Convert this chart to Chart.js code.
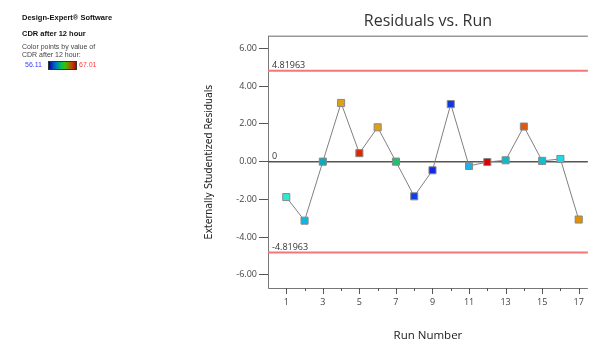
<!DOCTYPE html>
<html>
<head>
<meta charset="utf-8">
<script src="https://cdn.jsdelivr.net/npm/chart.js@4.4.1/dist/chart.umd.min.js"></script>
<style>
  html, body { margin: 0; padding: 0; background: #fff; }
  #wrap { position: relative; width: 593px; height: 341px; overflow: hidden; }
  #chartResiduos { position: absolute; left: 0; top: 0; }
  .info { position: absolute; font-family: "Liberation Sans", Arial, sans-serif; font-size: 7.5px; color: #111; white-space: nowrap; }
  .info b { font-weight: bold; }
  .legenda { position: absolute; left: 22px; top: 43px; font-family: "Liberation Sans", Arial, sans-serif; font-size: 7px; color: #444; line-height: 8px; }
  .escala { position: absolute; left: 25px; top: 61px; font-family: "Liberation Sans", Arial, sans-serif; font-size: 7px; line-height: 8px; }
  .escala .min { position: absolute; left: 0; top: 0; color: #3b3bff; }
  .escala .barra { position: absolute; left: 23px; top: 0; width: 27px; height: 7px; border: 1px solid #333;
    background: linear-gradient(to right, #0000b0, #0060c0 20%, #00c060 45%, #40c000 60%, #c04000 85%, #c00000); }
  .escala .max { position: absolute; left: 54px; top: 0; color: #ff3b3b; }
</style>
</head>
<body>
<div id="wrap">
  <canvas id="chartResiduos" width="593" height="341"></canvas>
  <div class="info" style="left:22px; top:13px;"><b>Design-Expert® Software</b></div>
  <div class="info" style="left:22px; top:29px;"><b>CDR after 12 hour</b></div>
  <div class="legenda">Color points by value of<br>CDR after 12 hour:</div>
  <div class="escala"><span class="min">56.11</span><span class="barra"></span><span class="max">67.01</span></div>
</div>
<script>
// dados
const runs = [1, 2, 3, 4, 5, 6, 7, 8, 9, 10, 11, 12, 13, 14, 15, 16, 17];
const residuos = [-1.88, -3.13, 0.00, 3.11, 0.45, 1.82, 0.00, -1.84, -0.46, 3.05, -0.23, -0.02, 0.07, 1.86, 0.04, 0.14, -3.07];
const coresPontos = ['#30e8d0', '#10b8e0', '#10a8c0', '#e0a010', '#e02800', '#e0a010', '#20c070', '#1040e0', '#1028e0',
  '#1038e0', '#20b0e8', '#e00000', '#10b8c8', '#e05810', '#10c0d0', '#20d8e8', '#e09000'];
const yTicks = [-6, -4, -2, 0, 2, 4, 6];
const xTicks = [1, 2, 3, 4, 5, 6, 7, 8, 9, 10, 11, 12, 13, 14, 15, 16, 17];
const limite = 4.81963;

const fonteTick = { family: '"Open Sans", sans-serif', size: 9 };

const linhasRef = {
    id: 'linhasRef',
    beforeDatasetsDraw(chart) {
        const { ctx, chartArea: a, scales: { x, y } } = chart;
        ctx.save();
        // bordas
        ctx.strokeStyle = '#999';
        ctx.lineWidth = 1.5;
        ctx.beginPath();
        ctx.moveTo(a.left, a.top);
        ctx.lineTo(a.right, a.top);
        ctx.stroke();
        ctx.strokeStyle = '#777';
        ctx.lineWidth = 1;
        ctx.beginPath();
        ctx.moveTo(a.left + 0.5, a.top);
        ctx.lineTo(a.left + 0.5, a.bottom + 0.5);
        ctx.lineTo(a.right, a.bottom + 0.5);
        ctx.stroke();
        // linhas de referencia
        const desenha = (v, cor, lw, txt) => {
            const py = y.getPixelForValue(v);
            ctx.strokeStyle = cor;
            ctx.lineWidth = lw;
            ctx.beginPath();
            ctx.moveTo(a.left, py);
            ctx.lineTo(a.right, py);
            ctx.stroke();
            ctx.fillStyle = '#333';
            ctx.font = '9px "Open Sans", sans-serif';
            ctx.textBaseline = 'bottom';
            ctx.fillText(txt, a.left + 4, py - 1);
        };
        desenha(limite, '#f07878', 2, String(limite));
        desenha(-limite, '#f07878', 2, '-' + limite);
        desenha(0, '#555', 1.5, '0');
        // ticks do eixo x
        ctx.strokeStyle = '#555';
        ctx.lineWidth = 1;
        xTicks.forEach(v => {
            const px = Math.round(x.getPixelForValue(v)) + 0.5;
            ctx.beginPath();
            ctx.moveTo(px, a.bottom);
            ctx.lineTo(px, a.bottom + (v % 2 ? 6 : 3));
            ctx.stroke();
        });
        ctx.restore();
    }
};

const initChartResiduos = () => {
    const ctx = document.getElementById('chartResiduos').getContext('2d');
    return new Chart(ctx, {
        type: 'line',
        data: {
            datasets: [{
                data: runs.map((r, i) => ({ x: r, y: residuos[i] })),
                borderColor: '#808080',
                borderWidth: 1,
                pointStyle: 'rect',
                pointRadius: 5,
                pointBackgroundColor: coresPontos,
                pointBorderColor: '#888',
                pointBorderWidth: 1,
                tension: 0
            }]
        },
        options: {
            responsive: false,
            animation: false,
            devicePixelRatio: 1,
            layout: { autoPadding: false, padding: { left: 195, top: 0, right: -5, bottom: 0 } },
            plugins: {
                legend: { display: false },
                tooltip: { enabled: false },
                title: {
                    display: true,
                    text: 'Residuals vs. Run',
                    fullSize: false,
                    color: '#333',
                    font: { family: '"Open Sans", sans-serif', size: 16, weight: 'normal', lineHeight: 1.2 },
                    padding: { top: 12, bottom: 5 }
                }
            },
            scales: {
                x: {
                    type: 'linear',
                    min: 0,
                    max: 17.5,
                    afterBuildTicks: s => { s.ticks = xTicks.map(v => ({ value: v })); },
                    afterFit: s => { s.height = 53; },
                    grid: { display: false, drawTicks: false },
                    border: { display: false },
                    ticks: {
                        autoSkip: false,
                        maxRotation: 0,
                        padding: 9,
                        color: '#444',
                        font: fonteTick,
                        callback: v => (v % 2 ? String(v) : '')
                    },
                    title: {
                        display: true,
                        text: 'Run Number',
                        color: '#222',
                        font: { family: '"Open Sans", sans-serif', size: 11.5, lineHeight: 1.0 },
                        padding: 0
                    }
                },
                y: {
                    min: -6.7,
                    max: 6.65,
                    afterBuildTicks: s => { s.ticks = yTicks.map(v => ({ value: v })); },
                    afterFit: s => { s.width = 73; },
                    grid: { drawOnChartArea: false, tickLength: 9, color: '#555' },
                    border: { display: false },
                    ticks: {
                        padding: 2,
                        color: '#444',
                        font: fonteTick,
                        callback: v => v.toFixed(2)
                    },
                    title: {
                        display: true,
                        text: 'Externally Studentized Residuals',
                        color: '#222',
                        font: { family: '"Liberation Sans Narrow", "DejaVu Sans Condensed", sans-serif', size: 10.5, lineHeight: 1.2 },
                        padding: { top: 8, bottom: 0 }
                    }
                }
            }
        },
        plugins: [linhasRef]
    });
};

const chartResiduos = initChartResiduos();
</script>
</body>
</html>
